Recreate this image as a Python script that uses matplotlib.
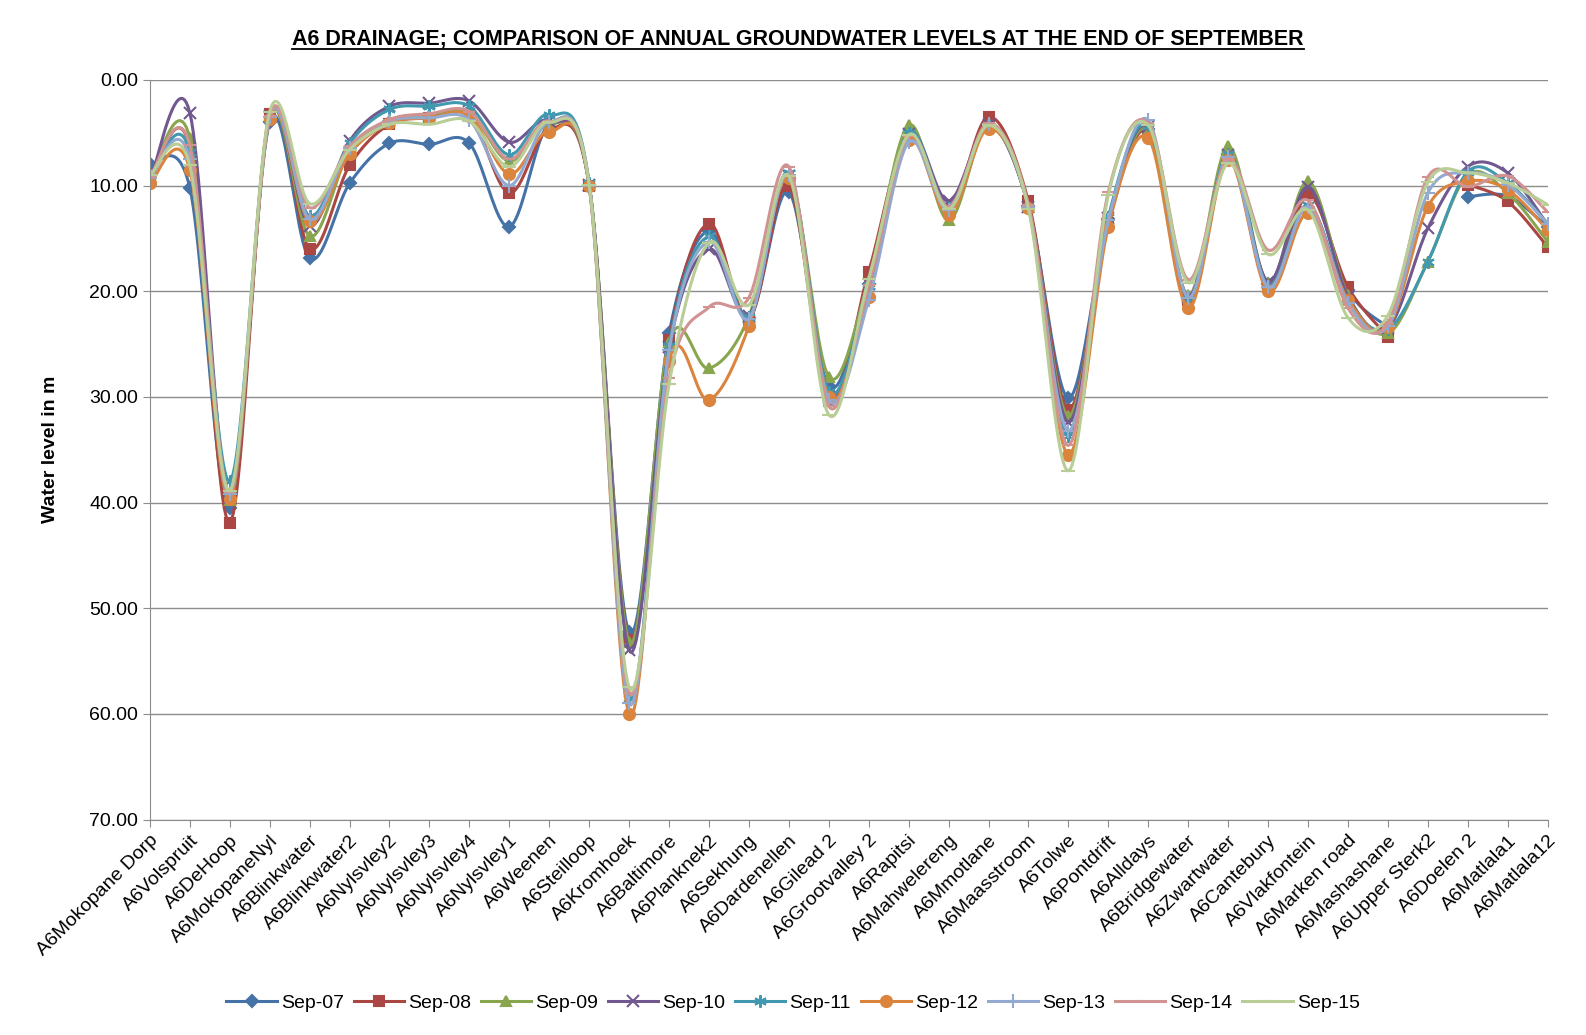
import numpy as np
import matplotlib
matplotlib.use('Agg')
from matplotlib import pyplot as plt
from matplotlib.lines import Line2D

plt.rcParams['font.family'] = ['Liberation Sans', 'DejaVu Sans']

nan = np.nan

SITES = ['A6Mokopane Dorp', 'A6Volspruit', 'A6DeHoop', 'A6MokopaneNyl', 'A6Blinkwater',
         'A6Blinkwater2', 'A6Nylsvley2', 'A6Nylsvley3', 'A6Nylsvley4', 'A6Nylsvley1',
         'A6Weenen', 'A6Steilloop', 'A6Kromhoek', 'A6Baltimore', 'A6Planknek2',
         'A6Sekhung', 'A6Dardenellen', 'A6Gilead 2', 'A6Grootvalley 2', 'A6Rapitsi',
         'A6Mahwelereng', 'A6Mmotlane', 'A6Maasstroom', 'A6Tolwe', 'A6Pontdrift',
         'A6Alldays', 'A6Bridgewater', 'A6Zwartwater', 'A6Cantebury', 'A6Vlakfontein',
         'A6Marken road', 'A6Mashashane', 'A6Upper Sterk2', 'A6Doelen 2', 'A6Matlala1',
         'A6Matlala12']

sep07 = [8.0, 10.2, 40.5, 4.0, 16.9, 9.8, 6.0, 6.1, 6.0, 13.9, 4.2, 9.9, 52.3, 24.0, 14.3,
         22.5, 10.6, 29.0, 19.3, 5.0, 12.0, 4.3, 11.9, 30.1, 13.2, 4.6, 20.6, 7.0, 19.3,
         10.5, 19.9, 23.4, nan, 11.05, 11.0, 13.9]
sep08 = [9.5, 6.4, 41.9, 3.2, 16.0, 8.1, 4.2, 3.6, 3.3, 10.7, 4.7, 10.0, 53.0, 24.6, 13.6,
         22.6, 10.0, 30.4, 18.15, 5.2, 12.3, 3.5, 11.5, 31.2, 13.55, 4.9, 20.8, 7.3, 19.6,
         10.9, 19.6, 24.3, nan, 9.9, 11.5, 15.8]
sep09 = [9.3, 5.5, 39.8, 3.5, 14.8, 6.75, 3.9, 3.3, 3.1, 7.7, 4.1, 9.9, 53.2, 24.8, 27.3,
         22.4, 9.2, 28.1, 19.0, 4.3, 13.3, 4.2, 12.0, 31.8, 13.3, 4.7, 20.4, 6.3, 19.2,
         9.6, 20.4, 24.0, 17.2, 9.0, 10.7, 15.3]
sep10 = [9.5, 3.1, 39.5, 3.4, 13.8, 5.8, 2.5, 2.2, 2.0, 5.9, 3.9, 9.9, 54.0, 25.3, 16.0,
         22.3, 9.1, 30.0, 19.3, 5.1, 11.5, 4.3, 12.0, 32.4, 13.1, 4.5, 20.5, 7.1, 19.1,
         10.1, 20.5, 23.5, 14.05, 8.2, 8.8, 13.7]
sep11 = [9.4, 6.8, 38.0, 3.6, 12.9, 6.0, 2.8, 2.5, 2.5, 7.1, 3.3, 9.8, 58.5, 25.2, 14.8,
         22.4, 8.8, 29.5, 19.5, 5.0, 12.1, 4.4, 12.0, 33.7, 13.0, 4.4, 20.7, 7.0, 19.5,
         11.8, 20.9, 23.6, 17.2, 8.7, 9.75, 13.6]
sep12 = [9.8, 8.5, 39.7, 3.7, 13.4, 7.0, 4.1, 3.6, 3.4, 8.9, 4.9, 10.05, 60.0, 26.6, 30.3,
         23.3, 9.3, 30.0, 20.5, 5.7, 12.8, 4.6, 12.1, 35.5, 13.9, 5.5, 21.6, 7.6, 20.0,
         12.6, 20.8, 23.4, 12.0, 9.6, 10.4, 14.2]
sep13 = [9.3, 7.5, 39.2, 3.5, 13.2, 6.4, 3.9, 3.6, 3.8, 10.0, 4.0, 10.0, 59.0, 25.6, 15.3,
         22.6, 9.0, 30.3, 20.8, 5.9, 12.3, 4.2, 12.0, 33.2, 13.3, 3.8, 20.6, 7.3, 19.6,
         12.0, 21.1, 23.3, 10.7, 8.8, 9.9, 13.6]
sep14 = [9.2, 6.2, 39.0, 3.4, 12.1, 6.3, 3.75, 3.2, 3.0, 7.5, 3.9, 9.9, 58.0, 28.2, 21.5,
         20.6, 8.2, 30.9, 19.4, 5.3, 12.0, 4.1, 11.8, 34.6, 10.6, 4.1, 18.9, 7.5, 16.1,
         11.4, 21.6, 23.0, 9.2, 10.1, 9.1, 12.5]
sep15 = [9.0, 8.1, 38.9, 3.0, 11.7, 6.6, 4.2, 4.2, 3.9, 8.2, 4.0, 9.9, 57.5, 28.8, 15.4,
         21.3, 9.1, 31.7, 18.8, 5.2, 12.2, 4.3, 12.2, 37.0, 10.9, 4.3, 19.2, 7.9, 16.5,
         12.3, 22.5, 22.3, 9.7, 8.8, 9.75, 11.8]

SERIES = ['Sep-07', 'Sep-08', 'Sep-09', 'Sep-10', 'Sep-11', 'Sep-12', 'Sep-13', 'Sep-14', 'Sep-15']
VALUES = [sep07, sep08, sep09, sep10, sep11, sep12, sep13, sep14, sep15]

COLORS = ['#4572A7', '#AA4643', '#89A54E', '#71588F', '#4198AF',
          '#DB843D', '#93A9CF', '#D19392', '#B9CD96']
MARKERS = ['D', 's', '^', 'x', (6, 2, 0), 'o', '+', '_', '_']
MSIZES = [6, 7, 7, 8, 9, 8, 10, 8, 10]


def smooth(xs, ys, n=24):
    # excel style smoothed line (catmull-rom bezier), split at gaps
    runs = []
    cur = []
    for x, y in zip(xs, ys):
        if np.isnan(y):
            if cur:
                runs.append(cur)
            cur = []
        else:
            cur.append((x, y))
    if cur:
        runs.append(cur)
    out_x, out_y = [], []
    t = np.linspace(0, 1, n)
    for run in runs:
        p = np.array(run, dtype=float)
        if len(p) == 1:
            continue
        for i in range(len(p) - 1):
            p0 = p[i - 1] if i > 0 else p[i]
            p1 = p[i]
            p2 = p[i + 1]
            p3 = p[i + 2] if i + 2 < len(p) else p[i + 1]
            c1 = p1 + (p2 - p0) / 6.0
            c2 = p2 - (p3 - p1) / 6.0
            b = ((1 - t) ** 3)[:, None] * p1 + (3 * (1 - t) ** 2 * t)[:, None] * c1 + \
                (3 * (1 - t) * t ** 2)[:, None] * c2 + (t ** 3)[:, None] * p2
            out_x.extend(b[:, 0])
            out_y.extend(b[:, 1])
        out_x.append(nan)
        out_y.append(nan)
    return out_x, out_y


fig = plt.figure(figsize=(15.86, 10.35), dpi=100)
ax = fig.add_axes([0.0945, 0.2082, 0.8813, 0.7146])

x = np.arange(len(SITES))
handles = []
for name, vals, c, m, ms in zip(SERIES, VALUES, COLORS, MARKERS, MSIZES):
    vals = np.array(vals, dtype=float)
    sx, sy = smooth(x, vals)
    ax.plot(sx, sy, color=c, lw=2.2, solid_capstyle='round')
    ax.plot(x, vals, ls='none', marker=m, color=c, ms=ms, mew=1.5)
    handles.append(Line2D([], [], color=c, lw=2.2, marker=m, ms=ms, mew=1.5))

ax.set_xlim(0, len(SITES) - 1)
ax.set_ylim(70, 0)
ax.set_yticks(np.arange(0, 71, 10))
ax.set_yticklabels(['%.2f' % v for v in np.arange(0, 71, 10)], fontsize=14)
ax.set_xticks(x)
ax.set_xticklabels(SITES, rotation=45, ha='right', va='top', rotation_mode='anchor', fontsize=14)
ax.grid(axis='y', color='#8c8c8c', lw=1.0)
ax.set_axisbelow(True)
for s in ['top', 'right']:
    ax.spines[s].set_visible(False)
for s in ['left', 'bottom']:
    ax.spines[s].set_color('#8c8c8c')
ax.tick_params(axis='both', color='#8c8c8c', length=5, direction='out')
ax.tick_params(axis='x', pad=4)
ax.set_ylabel('Water level in m', fontsize=14, fontweight='bold', labelpad=22)

title = fig.text(0.503, 0.962, 'A6 DRAINAGE; COMPARISON OF ANNUAL GROUNDWATER LEVELS AT THE END OF SEPTEMBER',
                 ha='center', va='center', fontsize=15.5, fontweight='bold')

fig.legend(handles, SERIES, loc='center', bbox_to_anchor=(0.5, 0.031), ncol=9, frameon=False,
           fontsize=14, handlelength=2.6, columnspacing=0.5, handletextpad=0.2)

fig.canvas.draw()
bb = title.get_window_extent().transformed(fig.transFigure.inverted())
fig.add_artist(Line2D([bb.x0, bb.x1], [bb.y0 + 0.001, bb.y0 + 0.001], color='black', lw=1.3,
                      transform=fig.transFigure))

fig.savefig('out.png', dpi=100)
